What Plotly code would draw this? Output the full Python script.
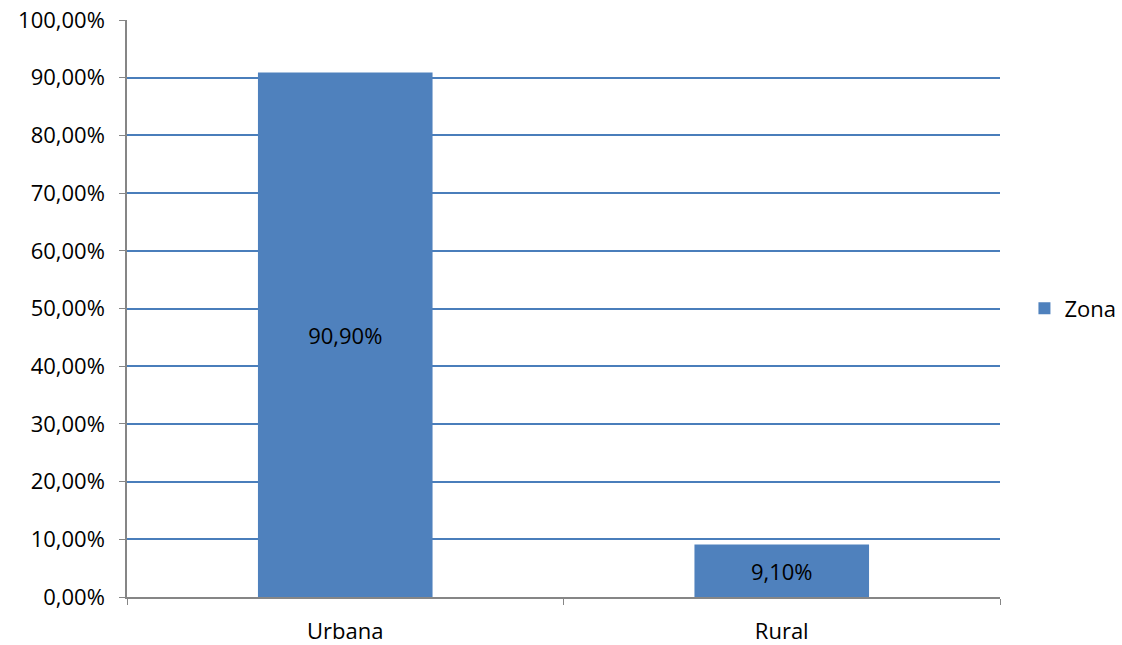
import plotly.graph_objects as go

categories = ["Urbana", "Rural"]
values = [0.909, 0.091]
series_name = "Zona"

fig = go.Figure()
fig.add_trace(go.Bar(
    x=categories, y=values, name=series_name,
    marker=dict(color="#4F81BD", line=dict(width=0)),
    width=0.4,
    texttemplate="%{y:.2%}", textposition="inside", insidetextanchor="middle",
    textfont=dict(color="#000000", size=22),
    showlegend=True,
))
fig.update_layout(
    width=1122, height=645,
    margin=dict(l=127, r=122, t=20, b=48, autoexpand=False),
    paper_bgcolor="white", plot_bgcolor="white",
    separators=",.",
    font=dict(family="Open Sans", size=22, color="#000000"),
    showlegend=True,
    legend=dict(x=1.028, y=0.5, xanchor="left", yanchor="middle",
                font=dict(size=22), itemwidth=30),
    bargap=0.6,
)
fig.update_xaxes(
    showline=True, linecolor="#868686", linewidth=1.5,
    ticks="outside", tickson="boundaries", ticklen=6, tickcolor="#868686",
    showgrid=False, automargin=False, ticklabelstandoff=14,
)
fig.update_yaxes(
    range=[0, 1], dtick=0.1, tickformat=".2%",
    showline=True, linecolor="#868686", linewidth=1.5,
    ticks="outside", ticklen=6, tickcolor="#868686",
    showgrid=True, gridcolor="#4A7EBB", gridwidth=1.5,
    zeroline=False, automargin=False, ticklabelstandoff=10,
)
fig.write_html("out.html")
